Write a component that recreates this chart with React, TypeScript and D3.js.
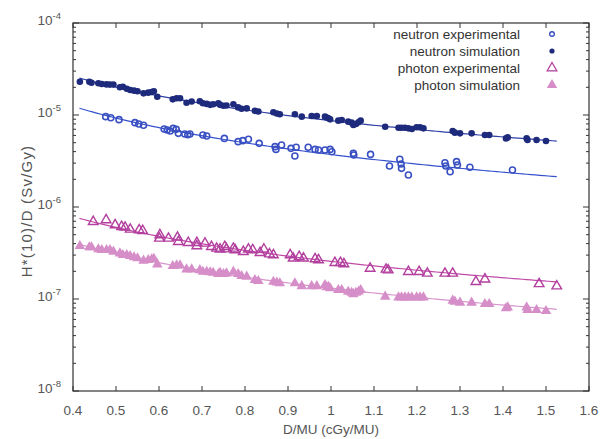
import React from "react";
import * as d3 from "d3";

// ---- data ----
const simX = [
  0.416, 0.438, 0.443, 0.459, 0.467, 0.478, 0.486, 0.494, 0.509, 0.516, 0.525, 0.533, 0.542, 0.55, 0.564, 0.575,
  0.583, 0.588, 0.596, 0.632, 0.641, 0.649, 0.664, 0.676, 0.695, 0.702, 0.711, 0.719, 0.726, 0.738, 0.742, 0.75,
  0.757, 0.773, 0.784, 0.792, 0.804, 0.823, 0.831, 0.866, 0.874, 0.881, 0.916, 0.932, 0.955, 0.967, 0.99,
  0.986, 0.994, 0.998, 1.017, 1.025, 1.04, 1.048, 1.052, 1.058, 1.064, 1.069, 1.126, 1.157, 1.164, 1.172, 1.18,
  1.188, 1.199, 1.207, 1.215, 1.283, 1.288, 1.3, 1.327, 1.358, 1.368, 1.407, 1.411, 1.455, 1.457, 1.478, 1.5,
];
const neutronSim = [
  2.3e-5, 2.3e-5, 2.24e-5, 2.21e-5, 2.17e-5, 2.15e-5, 2.14e-5, 2.14e-5, 2.0e-5, 2.03e-5, 1.93e-5, 1.87e-5, 1.84e-5, 1.81e-5, 1.72e-5, 1.75e-5,
  1.78e-5, 1.81e-5, 1.58e-5, 1.48e-5, 1.52e-5, 1.52e-5, 1.36e-5, 1.4e-5, 1.41e-5, 1.34e-5, 1.32e-5, 1.29e-5, 1.31e-5, 1.34e-5, 1.29e-5, 1.26e-5,
  1.27e-5, 1.31e-5, 1.21e-5, 1.17e-5, 1.18e-5, 1.11e-5, 1.09e-5, 1.07e-5, 1.04e-5, 1.02e-5, 1.02e-5, 9.6e-6, 9.75e-6, 9.75e-6, 9.4e-6,
  9.6e-6, 9.2e-6, 8.97e-6, 8.68e-6, 8.83e-6, 8.47e-6, 8.26e-6, 7.78e-6, 7.98e-6, 8.32e-6, 8.68e-6, 7.46e-6, 7.28e-6, 7.28e-6, 7.28e-6, 7.16e-6,
  7.04e-6, 7.35e-6, 7.35e-6, 7.16e-6, 6.7e-6, 6.43e-6, 6.32e-6, 6.32e-6, 6.07e-6, 6.07e-6, 5.57e-6, 5.71e-6, 5.57e-6, 5.35e-6, 5.35e-6, 5.21e-6,
];
const photonSim = [
  3.77e-7, 3.65e-7, 3.65e-7, 3.47e-7, 3.41e-7, 3.41e-7, 3.41e-7, 3.27e-7, 3.13e-7, 3.01e-7, 3.01e-7, 2.93e-7, 2.84e-7, 2.77e-7, 2.61e-7, 2.65e-7,
  2.7e-7, 2.74e-7, 2.38e-7, 2.28e-7, 2.32e-7, 2.32e-7, 2.1e-7, 2.1e-7, 2.06e-7, 1.98e-7, 1.98e-7, 1.95e-7, 1.93e-7, 1.87e-7, 1.93e-7, 1.87e-7,
  1.9e-7, 1.98e-7, 1.87e-7, 1.78e-7, 1.75e-7, 1.61e-7, 1.57e-7, 1.54e-7, 1.51e-7, 1.48e-7, 1.48e-7, 1.38e-7, 1.38e-7, 1.38e-7, 1.34e-7,
  1.42e-7, 1.36e-7, 1.31e-7, 1.25e-7, 1.25e-7, 1.2e-7, 1.17e-7, 1.13e-7, 1.17e-7, 1.2e-7, 1.25e-7, 1.06e-7, 1.04e-7, 1.04e-7, 1.04e-7, 1.04e-7,
  1.04e-7, 1.04e-7, 1.04e-7, 1.04e-7, 9.6e-8, 9.35e-8, 9.12e-8, 9.12e-8, 8.83e-8, 8.83e-8, 7.92e-8, 8.11e-8, 8.11e-8, 7.59e-8, 7.59e-8, 7.41e-8,
];
const neutronExpX = [
  0.476, 0.488, 0.507, 0.544, 0.553, 0.564, 0.612, 0.619, 0.626, 0.633, 0.64, 0.645, 0.66, 0.667, 0.672, 0.702, 0.711,
  0.752, 0.784, 0.795, 0.808, 0.833, 0.87, 0.872, 0.885, 0.907, 0.919, 0.916, 0.947, 0.963, 0.971, 0.986,
  0.998, 1.002, 1.052, 1.053, 1.092, 1.136, 1.16, 1.163, 1.164, 1.18, 1.265, 1.267, 1.277, 1.292, 1.294, 1.323, 1.422,
];
const neutronExp = [
  9.6e-6, 9.35e-6, 8.9e-6, 8.26e-6, 7.98e-6, 7.73e-6, 7.05e-6, 6.87e-6, 6.7e-6, 7.16e-6, 6.98e-6, 6.32e-6, 6.21e-6, 6.11e-6, 6.21e-6, 6.07e-6, 5.91e-6,
  5.57e-6, 5.13e-6, 5.26e-6, 5.44e-6, 4.92e-6, 4.53e-6, 4.23e-6, 4.72e-6, 4.34e-6, 4.46e-6, 3.58e-6, 4.46e-6, 4.23e-6, 4.17e-6, 4.17e-6,
  4.23e-6, 3.99e-6, 3.83e-6, 3.67e-6, 3.73e-6, 2.79e-6, 3.3e-6, 2.93e-6, 2.63e-6, 2.23e-6, 3.03e-6, 2.79e-6, 2.42e-6, 3.11e-6, 2.86e-6, 2.7e-6, 2.52e-6,
];
const photonExpX = [
  0.447, 0.477, 0.498, 0.513, 0.521, 0.533, 0.554, 0.562, 0.602, 0.601, 0.622, 0.643, 0.645, 0.668, 0.688, 0.688, 0.707,
  0.722, 0.734, 0.742, 0.753, 0.757, 0.773, 0.777, 0.796, 0.808, 0.818, 0.835, 0.844, 0.857, 0.866, 0.905, 0.912, 0.926,
  0.936, 0.963, 0.971, 1.009, 1.022, 1.03, 1.091, 1.128, 1.133, 1.18, 1.205, 1.224, 1.265, 1.283, 1.337, 1.358, 1.484, 1.525,
];
const photonExp = [
  6.93e-7, 7.23e-7, 6.37e-7, 6.11e-7, 6.01e-7, 5.71e-7, 5.62e-7, 5.53e-7, 4.96e-7, 4.56e-7, 4.56e-7, 4.68e-7, 4.2e-7, 4.09e-7, 4.09e-7, 3.77e-7, 4.03e-7,
  3.7e-7, 3.55e-7, 3.47e-7, 3.7e-7, 3.49e-7, 3.55e-7, 3.41e-7, 3.27e-7, 3.47e-7, 3.41e-7, 3.19e-7, 3.47e-7, 3.08e-7, 3.01e-7, 3.01e-7, 2.77e-7, 2.88e-7,
  2.77e-7, 2.72e-7, 2.66e-7, 2.48e-7, 2.48e-7, 2.4e-7, 2.15e-7, 2.1e-7, 2.06e-7, 1.98e-7, 1.98e-7, 1.9e-7, 1.9e-7, 1.9e-7, 1.54e-7, 1.64e-7, 1.46e-7, 1.38e-7,
];
// power-law fits y = a * x^b
const fitNames = ["neutron experimental", "neutron simulation", "photon experimental", "photon simulation"];
const fitA = [3.72e-6, 8.68e-6, 2.57e-7, 1.31e-7];
const fitB = [-1.317, -1.211, -1.223, -1.25];
const fitRange = [0.415, 1.525];
const xTicks = [0.4, 0.5, 0.6, 0.7, 0.8, 0.9, 1, 1.1, 1.2, 1.3, 1.4, 1.5, 1.6];
const yDecades = [-4, -5, -6, -7, -8];

const C_NSIM = "#1e2a7c";
const C_NEXP = "#3a50c2";
const C_NSIM_LINE = "#2f3fa6";
const C_NEXP_LINE = "#3552cc";
const C_PEXP = "#b23f9e";
const C_PSIM = "#d68ec9";
const lineColors = [C_NEXP_LINE, C_NSIM_LINE, "#c04aa8", "#d894cc"];

const W = 600, H = 439;
const L = 73, R = 589, T = 23, B = 391;

export default function App() {
  const x = d3.scaleLinear().domain([0.4, 1.6]).range([L, R]);
  const y = d3.scaleLog().domain([1e-8, 1e-4]).range([B, T]);
  const triOpen = d3.symbol().type(d3.symbolTriangle).size(40)();
  const triFill = d3.symbol().type(d3.symbolTriangle).size(48)();

  const minor: number[] = [];
  for (let e = -8; e < -4; e++) for (let m = 2; m <= 9; m++) minor.push(m * Math.pow(10, e));

  const fitPath = (i: number) => {
    const xs = d3.range(fitRange[0], fitRange[1] + 1e-9, 0.01);
    return d3.line<number>().x((v) => x(v)).y((v) => y(fitA[i] * Math.pow(v, fitB[i])))(xs) || "";
  };

  const font = "'Liberation Sans', Arial, sans-serif";
  const legendY = [34, 51, 68, 85];
  const fs = 13.5;

  return (
    <svg width={W} height={H} style={{ position: "absolute", left: 0, top: 0, background: "#fff" }} fontFamily={font}>
      <rect x={0} y={0} width={W} height={H} fill="#fff" />
      {/* fit lines */}
      {fitNames.map((n, i) => (
        <path key={n} d={fitPath(i)} fill="none" stroke={lineColors[i]} strokeWidth={1.2} />
      ))}
      {/* photon simulation */}
      {simX.map((v, i) => (
        <path key={"ps" + i} d={triFill} transform={`translate(${x(v)},${y(photonSim[i])})`} fill={C_PSIM} />
      ))}
      {/* photon experimental */}
      {photonExpX.map((v, i) => (
        <path key={"pe" + i} d={triOpen} transform={`translate(${x(v)},${y(photonExp[i])})`} fill="none" stroke={C_PEXP} strokeWidth={1.4} />
      ))}
      {/* neutron simulation */}
      {simX.map((v, i) => (
        <circle key={"ns" + i} cx={x(v)} cy={y(neutronSim[i])} r={3.3} fill={C_NSIM} />
      ))}
      {/* neutron experimental */}
      {neutronExpX.map((v, i) => (
        <circle key={"ne" + i} cx={x(v)} cy={y(neutronExp[i])} r={3} fill="none" stroke={C_NEXP} strokeWidth={1.6} />
      ))}

      {/* frame */}
      <rect x={L} y={T} width={R - L} height={B - T} fill="none" stroke="#333" strokeWidth={1.2} />
      {/* x ticks */}
      {xTicks.map((t) => (
        <g key={"xt" + t}>
          <line x1={x(t)} x2={x(t)} y1={B} y2={B - 5} stroke="#333" />
          <line x1={x(t)} x2={x(t)} y1={T} y2={T + 5} stroke="#333" />
          <text x={x(t)} y={415} textAnchor="middle" fontSize={fs} fill="#555">{String(t)}</text>
        </g>
      ))}
      {/* y ticks */}
      {yDecades.map((e) => (
        <g key={"yt" + e}>
          <line x1={L} x2={L + 6} y1={y(Math.pow(10, e))} y2={y(Math.pow(10, e))} stroke="#333" />
          <line x1={R} x2={R - 6} y1={y(Math.pow(10, e))} y2={y(Math.pow(10, e))} stroke="#333" />
          <text x={61} y={y(Math.pow(10, e)) + 2} textAnchor="end" fontSize={fs} fill="#555">
            10<tspan dy={-6} fontSize={9.5}>{String(e)}</tspan>
          </text>
        </g>
      ))}
      {minor.map((m, i) => (
        <g key={"ym" + i}>
          <line x1={L} x2={L + 3} y1={y(m)} y2={y(m)} stroke="#333" />
          <line x1={R} x2={R - 3} y1={y(m)} y2={y(m)} stroke="#333" />
        </g>
      ))}
      {/* axis titles */}
      <text x={331} y={434} textAnchor="middle" fontSize={fs} fill="#555">D/MU (cGy/MU)</text>
      <text transform={`translate(32,${(T + B) / 2 + 4}) rotate(-90)`} textAnchor="middle" fontSize={15} letterSpacing={1.2} fill="#555">H*(10)/D (Sv/Gy)</text>

      {/* legend */}
      {fitNames.map((n, i) => (
        <text key={"lg" + n} x={520} y={legendY[i] + 5} textAnchor="end" fontSize={fs} fill="#333">{n}</text>
      ))}
      <circle cx={552} cy={legendY[0]} r={2.3} fill="none" stroke={C_NEXP} strokeWidth={1.4} />
      <circle cx={552} cy={legendY[1]} r={2.6} fill={C_NSIM} />
      <path d={triOpen} transform={`translate(552,${legendY[2]})`} fill="none" stroke={C_PEXP} strokeWidth={1.3} />
      <path d={triFill} transform={`translate(552,${legendY[3]})`} fill={C_PSIM} />
    </svg>
  );
}
